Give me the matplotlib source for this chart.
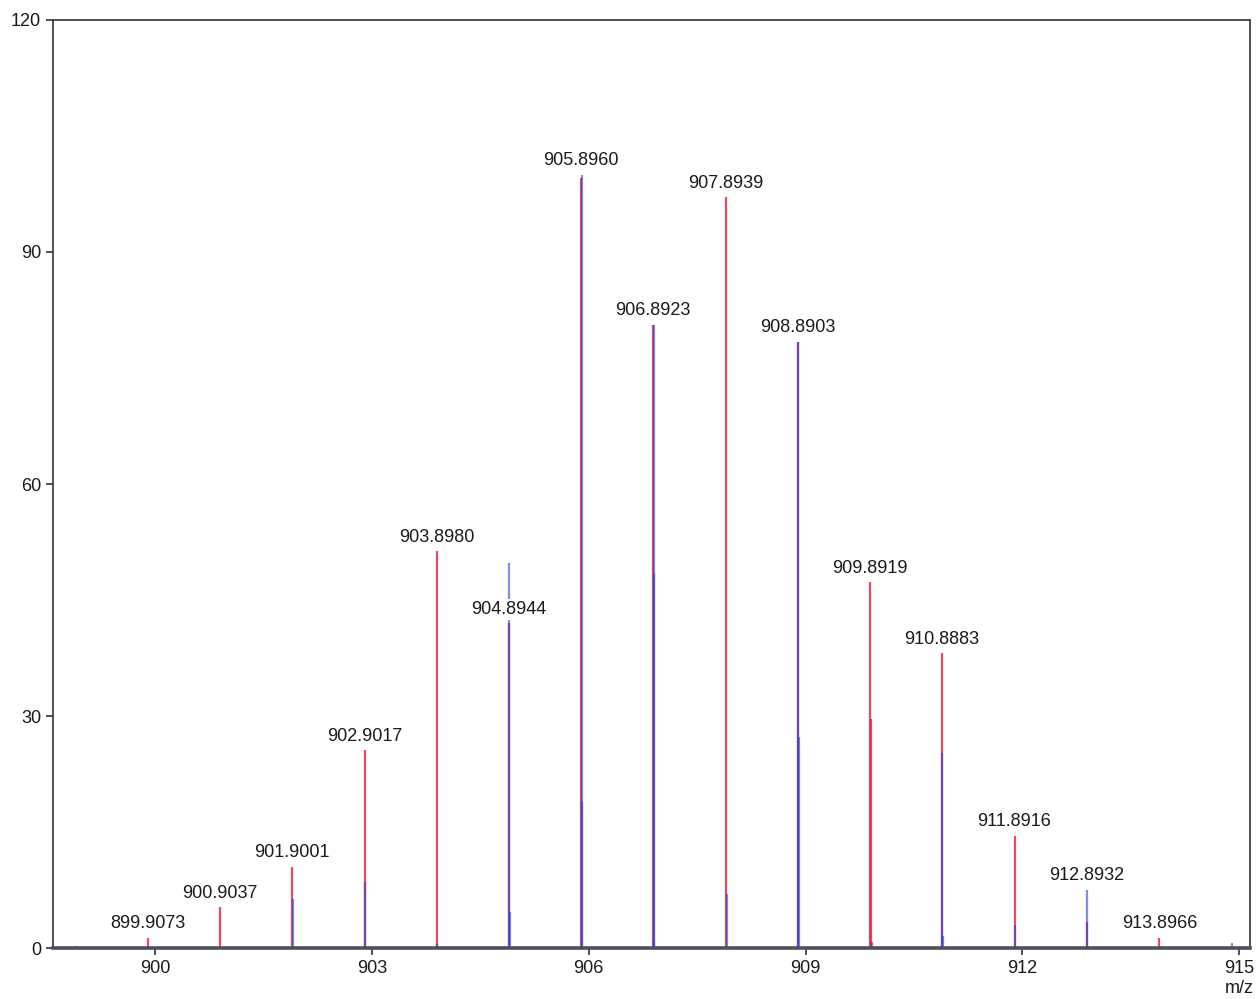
import numpy as np
import matplotlib
matplotlib.use('Agg')
import matplotlib.pyplot as plt

plt.rcParams['font.family'] = ['Liberation Sans', 'DejaVu Sans']

# experimental isotope pattern (red) - m/z and relative intensity
red_mz = [898.910, 899.9073, 900.9037, 901.9001, 902.9017, 903.8980, 904.8944,
          905.8960, 906.8923, 907.8939, 908.8903, 909.8919, 909.9060, 910.8883,
          911.8916, 912.8932, 913.8966]
red_int = [0.3, 1.3, 5.3, 10.5, 25.6, 51.3, 42.0,
           99.6, 80.6, 97.1, 78.4, 47.3, 29.6, 38.1,
           14.5, 3.4, 1.3]

# simulated isotope pattern (blue)
blue_mz = [901.9080, 902.9090, 903.9050, 904.9010, 904.9130, 905.9020, 905.9140,
           906.8990, 906.8990, 906.9110, 907.9120, 908.8970, 908.9090,
           909.9140, 910.8950, 910.9080, 911.9040, 912.8990, 914.9000]
blue_int = [6.3, 8.5, 0.5, 49.8, 4.6, 100.0, 18.9,
            80.6, 48.5, 0.6, 7.0, 78.4, 27.3,
            0.8, 25.2, 1.5, 3.0, 7.5, 0.7]

# labelled peaks
label_mz = [899.9073, 900.9037, 901.9001, 902.9017, 903.8980, 904.8944, 905.8960,
            906.8923, 907.8939, 908.8903, 909.8919, 910.8883, 911.8916, 912.8932,
            913.8966]
label_int = [1.3, 5.3, 10.5, 25.6, 51.3, 42.0, 100.0,
             80.6, 97.1, 78.4, 47.3, 38.1, 14.5, 7.5,
             1.3]

x_ticks = [900, 903, 906, 909, 912, 915]
y_ticks = [0, 30, 60, 90, 120]

fig = plt.figure(figsize=(12.59, 9.99), dpi=100)
ax = fig.add_axes([0.0421, 0.051, 0.9508, 0.929])

ax.vlines(red_mz, 0, red_int, colors='#e41e3c', lw=1.6, alpha=0.8, zorder=2)
ax.vlines(blue_mz, 0, blue_int, colors='#2244d4', lw=1.6, alpha=0.6, zorder=3)

for mz, h in zip(label_mz, label_int):
    ax.annotate('{:.4f}'.format(mz), xy=(mz, h), xytext=(0, 4),
                textcoords='offset points', ha='center', va='bottom',
                fontsize=13, color='#1a1a1a', zorder=5,
                bbox=dict(facecolor='white', edgecolor='none', pad=1.5))

ax.set_xlim(898.59, 915.15)
ax.set_ylim(0, 120)
ax.set_xticks(x_ticks)
ax.set_yticks(y_ticks)
ax.tick_params(axis='both', labelsize=13, length=5, width=1.2,
               color='#333333', labelcolor='#1a1a1a', direction='out')

for side in ['left', 'top', 'right']:
    ax.spines[side].set_color('#333333')
    ax.spines[side].set_linewidth(1.2)
ax.spines['bottom'].set_color('#4b505c')
ax.spines['bottom'].set_linewidth(2.6)
ax.spines['bottom'].set_zorder(4)

ax.annotate('m/z', xy=(915, 0), xycoords=('data', 'axes fraction'),
            xytext=(0, -23), textcoords='offset points',
            ha='center', va='top', fontsize=13, color='#1a1a1a')

fig.savefig('out.png', dpi=100)
